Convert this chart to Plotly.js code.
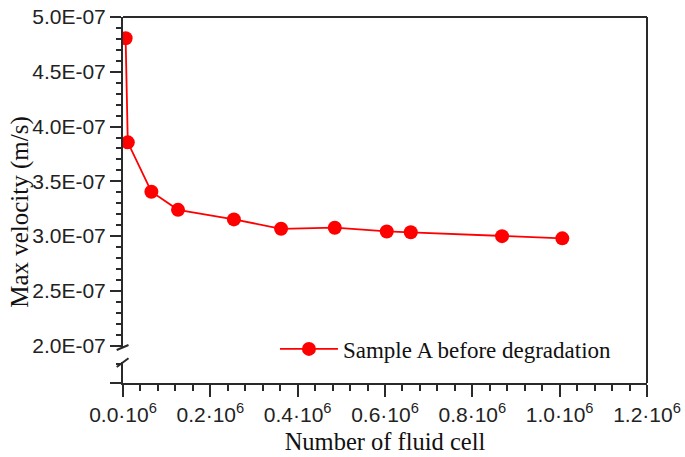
<!DOCTYPE html>
<html>
<head>
<meta charset="utf-8">
<script src="https://cdn.plot.ly/plotly-3.0.1.min.js"></script>
<style>html,body{margin:0;padding:0;background:#fff;}#chart{width:685px;height:457px;}</style>
</head>
<body>
<div id="chart"></div>
<script>
// Data
const cellCounts = [6000, 11000, 65000, 126000, 254000, 362000, 485000, 604000, 659000, 868000, 1006000];
const maxVelocity = [4.806e-7, 3.856e-7, 3.405e-7, 3.24e-7, 3.153e-7, 3.067e-7, 3.077e-7, 3.043e-7, 3.035e-7, 3.0e-7, 2.98e-7];
const seriesName = 'Sample A before degradation';
const xTickVals = [0, 200000, 400000, 600000, 800000, 1000000, 1200000];
const xTickText = ['0.0·10<sup>6</sup>', '0.2·10<sup>6</sup>', '0.4·10<sup>6</sup>', '0.6·10<sup>6</sup>', '0.8·10<sup>6</sup>', '1.0·10<sup>6</sup>', '1.2·10<sup>6</sup>'];
const yTickVals = [2.0e-7, 2.5e-7, 3.0e-7, 3.5e-7, 4.0e-7, 4.5e-7, 5.0e-7];
const yTickText = ['2.0E-07', '2.5E-07', '3.0E-07', '3.5E-07', '4.0E-07', '4.5E-07', '5.0E-07'];

const axisColor = '#2a2a2a';
const tickFont = {family: '"Liberation Sans", Arial, sans-serif', size: 21, color: '#222'};
const serif = '"Liberation Serif", "Times New Roman", serif';

const trace = {
  x: cellCounts, y: maxVelocity, name: seriesName,
  type: 'scatter', mode: 'lines+markers',
  line: {color: '#ff0000', width: 1.8},
  marker: {color: '#ff0000', size: 14},
  xaxis: 'x', yaxis: 'y'
};
// empty helper trace so that the lower (broken) axis segment exists
const lowerSegment = {x: [], y: [], type: 'scatter', mode: 'lines', showlegend: false, hoverinfo: 'skip', xaxis: 'x', yaxis: 'y2'};

const layout = {
  width: 685, height: 457,
  margin: {l: 123, r: 38, t: 17, b: 74},
  paper_bgcolor: '#fff', plot_bgcolor: '#fff',
  showlegend: true,
  legend: {x: 0.29, y: 0.093, xanchor: 'left', yanchor: 'middle', bgcolor: 'rgba(0,0,0,0)',
           itemwidth: 58,
           font: {family: serif, size: 23, color: '#111'}},
  xaxis: {
    range: [0, 1200000], anchor: 'y2', showgrid: false, zeroline: false, automargin: false,
    showline: true, linecolor: axisColor, linewidth: 2,
    tickmode: 'array', tickvals: xTickVals, ticktext: xTickText,
    ticks: 'outside', ticklen: 12, tickwidth: 2, tickcolor: axisColor,
    tickfont: tickFont,
    minor: {dtick: 40000, tick0: 0, ticks: 'outside', ticklen: 6, tickwidth: 2, tickcolor: axisColor, showgrid: false},
    title: {text: 'Number of fluid cell', font: {family: serif, size: 24.5, color: '#111'}, standoff: 8}
  },
  yaxis: {
    domain: [0.0956, 1], range: [1.979e-7, 5.0e-7], anchor: 'x', automargin: false,
    showgrid: false, zeroline: false,
    showline: true, linecolor: axisColor, linewidth: 2,
    tickmode: 'array', tickvals: yTickVals, ticktext: yTickText,
    ticks: 'outside', ticklen: 11, tickwidth: 2, tickcolor: axisColor,
    tickfont: tickFont,
    minor: {dtick: 1e-8, tick0: 0, ticks: 'outside', ticklen: 5, tickwidth: 2, tickcolor: axisColor, showgrid: false}
  },
  yaxis2: {
    domain: [0, 0.0574], range: [1.75e-7, 1.917e-7], anchor: 'x', automargin: false,
    showgrid: false, zeroline: false,
    showline: true, linecolor: axisColor, linewidth: 2,
    tickmode: 'array', tickvals: [1.75e-7], ticks: 'outside', ticklen: 11, tickwidth: 2, tickcolor: axisColor,
    showticklabels: false,
    minor: {tickvals: [1.9e-7], ticks: 'outside', ticklen: 5, tickwidth: 2, tickcolor: axisColor, showgrid: false}
  },
  shapes: [
    {type: 'line', xref: 'paper', yref: 'paper', x0: 0, x1: 1, y0: 1, y1: 1, line: {color: axisColor, width: 2}},
    {type: 'line', xref: 'paper', yref: 'paper', x0: 1, x1: 1, y0: 0, y1: 1, line: {color: axisColor, width: 2}},
    {type: 'line', xref: 'paper', yref: 'paper', x0: -0.012, x1: 0.0105, y0: 0.0902, y1: 0.1038, line: {color: axisColor, width: 2}},
    {type: 'line', xref: 'paper', yref: 'paper', x0: -0.012, x1: 0.0105, y0: 0.0437, y1: 0.0675, line: {color: axisColor, width: 2}}
  ],
  annotations: [
    {text: 'Max velocity (m/s)', xref: 'paper', yref: 'paper', x: -0.197, y: 0.467,
     xanchor: 'center', yanchor: 'middle', textangle: -90, showarrow: false,
     font: {family: serif, size: 25, color: '#111'}}
  ]
};

Plotly.newPlot('chart', [trace, lowerSegment], layout, {displayModeBar: false, staticPlot: true});
</script>
</body>
</html>
